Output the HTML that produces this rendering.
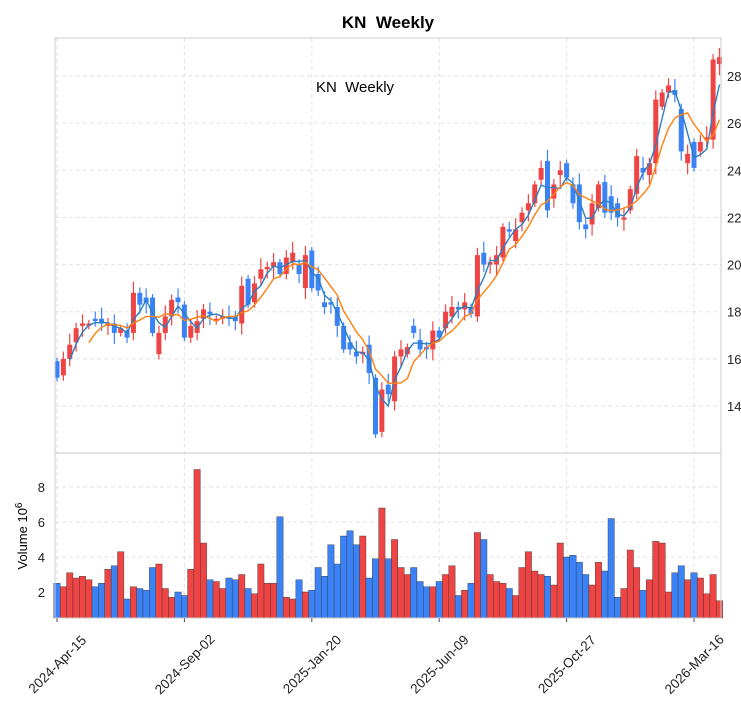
<!DOCTYPE html>
<html><head><meta charset="utf-8"><style>
body{margin:0;background:#fff;}
svg{display:block;font-family:"Liberation Sans","DejaVu Sans",sans-serif;}
</style></head><body>
<svg id="s" width="741" height="712" xmlns="http://www.w3.org/2000/svg"></svg>
<script>
const oc=[[15.9,15.2],[15.3,16.0],[16.0,16.6],[16.7,17.3],[17.4,17.5],[17.4,17.5],[17.7,17.6],[17.7,17.5],[17.4,17.5],[17.5,17.1],[17.1,17.3],[17.2,16.9],[17.1,18.8],[18.8,18.3],[18.6,18.4],[18.6,17.1],[16.2,17.1],[17.1,17.8],[17.8,18.5],[18.6,18.4],[18.3,16.9],[16.9,17.4],[17.1,17.6],[17.7,18.1],[18.0,17.9],[17.6,17.7],[17.7,17.8],[17.8,17.7],[17.8,17.6],[17.5,19.1],[19.4,18.3],[18.4,19.2],[19.4,19.8],[19.8,19.9],[19.9,20.1],[20.1,19.6],[19.6,20.3],[20.1,20.5],[20.0,19.6],[19.0,20.4],[20.6,19.0],[19.6,18.9],[18.4,18.2],[18.4,18.3],[18.2,17.4],[17.4,16.4],[16.7,16.4],[16.3,16.1],[16.2,16.3],[16.6,15.4],[15.2,12.8],
[12.9,14.7],[14.9,14.5],[14.2,16.1],[16.1,16.4],[16.2,16.5],[17.4,17.1],[16.8,16.4],[16.5,16.4],[16.4,17.2],[17.2,16.9],[17.3,18.0],[17.8,18.2],[18.2,18.1],[18.1,18.4],[18.2,17.9],[17.8,20.4],[20.5,20.0],[20.0,20.1],[20.0,20.4],[20.3,21.6],[21.5,21.4],[21.0,21.5],[21.8,22.2],[22.3,22.6],[22.6,23.4],[23.6,24.1],[24.4,22.3],[22.8,23.4],[23.8,24.0],[24.3,23.7],[23.4,22.6],[23.4,21.8],[21.7,21.5],[21.7,22.6],[22.4,23.4],[23.5,22.2],[22.9,22.2],[22.6,22.0],[21.9,22.0],[22.3,23.2],[23.0,24.6],[24.1,23.9],[23.8,24.3],[24.3,27.0],[26.7,27.3],[27.3,27.6],[27.4,27.2],[26.6,24.8],[24.3,24.7],[25.2,24.1],[24.8,25.2],[25.3,25.4],[25.3,28.7],[28.5,28.8]];
const vol=[2.5,2.3,3.1,2.8,2.9,2.7,2.3,2.5,3.3,3.5,4.3,1.6,2.3,2.2,2.1,3.4,3.6,2.2,1.7,2.0,1.8,3.3,9.0,4.8,2.7,2.6,2.2,2.8,2.7,3.0,2.2,1.9,3.6,2.5,2.5,6.3,1.7,1.6,2.7,2.0,2.1,3.4,2.9,4.7,3.6,5.2,5.5,4.7,5.2,2.8,3.9,6.8,3.9,5.0,3.4,3.0,3.4,2.6,2.3,2.3,2.6,3.0,3.5,1.8,2.1,2.5,5.4,5.0,3.0,2.6,2.5,2.2,1.8,3.4,4.3,3.2,3.0,2.9,2.4,4.8,4.0,4.1,3.7,3.0,2.4,3.7,3.2,6.2,1.7,2.2,4.4,3.4,2.1,2.7,4.9,4.8,2.0,3.1,3.5,2.7,3.1,2.8,1.9,3.0,1.5];
const X=i=>57+i*6.37, Y=p=>76+(28-p)*23.571, VY=v=>627-v*17.5;
let h='';
const L=55,R=721,T=38,M=453,B=618;
for(let p=14;p<=28;p+=2){h+=`<line x1="${L}" x2="${R}" y1="${Y(p)}" y2="${Y(p)}" stroke="#e3e3e3" stroke-dasharray="4,3"/>`;h+=`<text x="727" y="${Y(p)+5}" font-size="13" fill="#222">${p}</text>`;}
for(let v=2;v<=8;v+=2){h+=`<line x1="${L}" x2="${R}" y1="${VY(v)}" y2="${VY(v)}" stroke="#e3e3e3" stroke-dasharray="4,3"/>`;h+=`<text x="45" y="${VY(v)+5}" font-size="13" fill="#222" text-anchor="end">${v}</text>`;}
const ticks=[[0,'2024-Apr-15'],[20,'2024-Sep-02'],[40,'2025-Jan-20'],[60,'2025-Jun-09'],[80,'2025-Oct-27'],[100,'2026-Mar-16']];
ticks.forEach(([i,t])=>{const x=X(i);h+=`<line x1="${x}" x2="${x}" y1="${T}" y2="${B}" stroke="#e3e3e3" stroke-dasharray="4,3"/><line x1="${x}" x2="${x}" y1="${B}" y2="${B+4}" stroke="#444"/><text transform="translate(${x},${664}) rotate(-45)" font-size="13.5" fill="#222" text-anchor="middle" dy="5">${t}</text>`;});
oc.forEach(([o,c],i)=>{const x=X(i),up=c>=o,col=up?'#ef4444':'#3b82f6';const hi=Math.max(o,c)+0.15+((i*7)%5)*0.08,lo=Math.min(o,c)-0.15-((i*11)%5)*0.08;
h+=`<line x1="${x}" x2="${x}" y1="${Y(hi)}" y2="${Y(lo)}" stroke="${col}" stroke-width="1.2"/>`;
const y1=Y(Math.max(o,c)),y2=Y(Math.min(o,c));h+=`<rect x="${x-2.5}" y="${y1}" width="5" height="${Math.max(y2-y1,1.5)}" fill="${col}"/>`;
if(i<vol.length){const vy=VY(vol[i]);h+=`<rect x="${x-3.2}" y="${vy}" width="6.4" height="${B-vy}" fill="${col}" stroke="#333" stroke-width="0.4"/>`;}});
function ma(n,col){let pts=[];for(let i=n-1;i<oc.length;i++){let s=0;for(let k=0;k<n;k++)s+=oc[i-k][1];pts.push(X(i).toFixed(1)+','+Y(s/n).toFixed(1));}h+=`<polyline points="${pts.join(' ')}" fill="none" stroke="${col}" stroke-width="1.4"/>`;}
ma(3,'#2a7fc0');ma(6,'#ff7f0e');
h+=`<rect x="${L}" y="${T}" width="${R-L}" height="${B-T}" fill="none" stroke="#ccc"/><line x1="${L}" x2="${R}" y1="${M}" y2="${M}" stroke="#ccc"/>`;
h+=`<text x="388" y="28" font-size="17" font-weight="bold" text-anchor="middle" xml:space="preserve">KN  Weekly</text>`;
h+=`<text x="355" y="92" font-size="15" text-anchor="middle" xml:space="preserve">KN  Weekly</text>`;
h+=`<text transform="translate(27,536) rotate(-90)" font-size="13" text-anchor="middle">Volume  10<tspan dy="-5" font-size="10">6</tspan></text>`;
document.getElementById('s').innerHTML=h;
</script>
</body></html>
